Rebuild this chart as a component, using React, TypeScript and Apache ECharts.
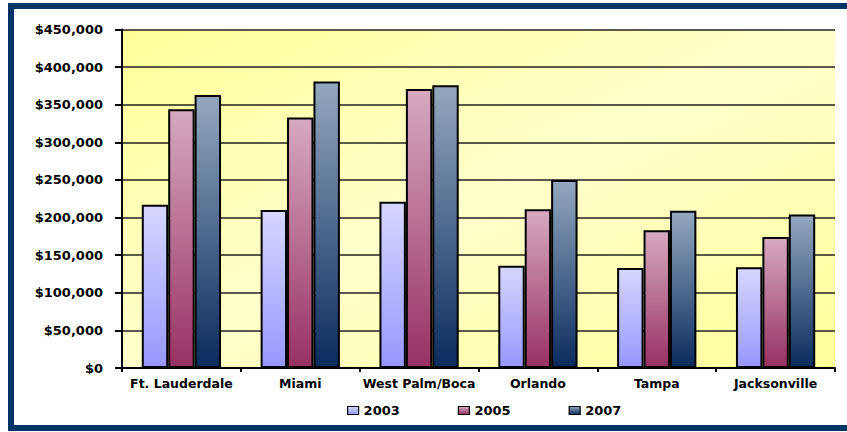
import React, { useEffect, useRef } from "react";
import * as echarts from "echarts";

const categories = ["Ft. Lauderdale", "Miami", "West Palm/Boca", "Orlando", "Tampa", "Jacksonville"];
const seriesNames = ["2003", "2005", "2007"];
const values2003 = [217000, 210000, 221000, 136000, 133000, 134000];
const values2005 = [344000, 333000, 371000, 211000, 183000, 174000];
const values2007 = [363000, 381000, 376000, 250000, 209000, 204000];
const yMin = 0;
const yMax = 450000;
const yInterval = 50000;

const FONT = "DejaVu Sans";

function grad(top: string, bottom: string) {
  return new echarts.graphic.LinearGradient(0, 0, 0, 1, [
    { offset: 0, color: top },
    { offset: 1, color: bottom },
  ]);
}

export default function App() {
  const ref = useRef<HTMLDivElement>(null);
  useEffect(() => {
    if (!ref.current) return;
    const chart = echarts.init(ref.current, undefined, { renderer: "svg" });
    const gradients = [
      grad("#D6D6FF", "#9797FF"),
      grad("#D6A9BF", "#983163"),
      grad("#93A8BF", "#0A2B5E"),
    ];
    const allValues = [values2003, values2005, values2007];
    chart.setOption({
      animation: false,
      backgroundColor: "#ffffff",
      grid: {
        left: 122,
        right: 12,
        top: 29.5,
        bottom: 64,
        show: true,
        borderWidth: 0,
        backgroundColor: new echarts.graphic.LinearGradient(0, 0, 1, 1, [
          { offset: 0, color: "#FFFF99" },
          { offset: 0.5, color: "#FFFFCC" },
          { offset: 1, color: "#FFFF99" },
        ]),
      },
      legend: {
        data: seriesNames,
        left: 347,
        top: 404,
        padding: 0,
        itemWidth: 11,
        itemHeight: 8,
        itemGap: 58,
        icon: "rect",
        itemStyle: { borderColor: "#000", borderWidth: 1.2 },
        textStyle: { fontFamily: FONT, fontWeight: "bold", fontSize: 13, color: "#000" },
      },
      xAxis: {
        type: "category",
        data: categories,
        boundaryGap: true,
        axisLine: { show: true, lineStyle: { color: "#000", width: 2 } },
        axisTick: { show: true, length: 4, lineStyle: { color: "#000", width: 2 } },
        axisLabel: {
          interval: 0,
          margin: 9,
          fontFamily: FONT,
          fontWeight: "bold",
          fontSize: 12.5,
          color: "#000",
        },
      },
      yAxis: {
        type: "value",
        min: yMin,
        max: yMax,
        interval: yInterval,
        axisLine: { show: true, lineStyle: { color: "#000", width: 2 } },
        axisTick: { show: true, length: 7, lineStyle: { color: "#000", width: 2 } },
        axisLabel: {
          margin: 19,
          fontFamily: FONT,
          fontWeight: "bold",
          fontSize: 13,
          color: "#000",
          formatter: (v: number) => "$" + v.toLocaleString("en-US"),
        },
        splitLine: {
          show: true,
          lineStyle: { color: "#222222", width: 1.5 },
        },
      },
      series: seriesNames.map((name, i) => ({
        name,
        type: "bar",
        data: allValues[i],
        barGap: "0%",
        barCategoryGap: "33.3%",
        itemStyle: { color: gradients[i], borderColor: "#000", borderWidth: 2 },
        emphasis: { disabled: true },
      })),
      graphic: [
        { type: "rect", shape: { x: 8, y: 3, width: 839, height: 6 }, style: { fill: "#003366" }, z: 100 },
        { type: "rect", shape: { x: 8, y: 3, width: 6, height: 428 }, style: { fill: "#003366" }, z: 100 },
        { type: "rect", shape: { x: 8, y: 425, width: 839, height: 6 }, style: { fill: "#003366" }, z: 100 },
      ],
    });
    return () => chart.dispose();
  }, []);
  return (
    <div
      ref={ref}
      style={{ position: "absolute", left: 0, top: 0, width: 847, height: 432, background: "#fff" }}
    />
  );
}
